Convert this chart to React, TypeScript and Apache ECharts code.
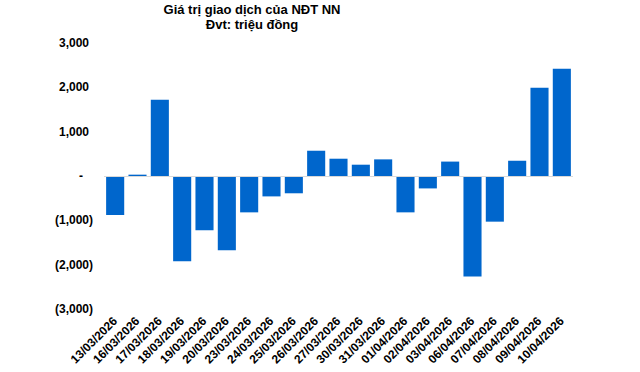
import React, { useEffect, useRef } from "react";
import * as echarts from "echarts";

const categories = [
  "13/03/2026", "16/03/2026", "17/03/2026", "18/03/2026", "19/03/2026",
  "20/03/2026", "23/03/2026", "24/03/2026", "25/03/2026", "26/03/2026",
  "27/03/2026", "30/03/2026", "31/03/2026", "01/04/2026", "02/04/2026",
  "03/04/2026", "06/04/2026", "07/04/2026", "08/04/2026", "09/04/2026",
  "10/04/2026",
];

const values = [
  -880, 30, 1720, -1925, -1225,
  -1677, -820, -460, -390, 570,
  390, 255, 375, -820, -280,
  325, -2265, -1030, 345, 1990,
  2420,
];

const titleLines = ["Giá trị giao dịch của NĐT NN", "Đvt: triệu đồng"];

const FONT = "Arial, 'Liberation Sans', sans-serif";

function fmt(v: number): string {
  if (v === 0) return "{z|-}";
  const s = Math.abs(v).toLocaleString("en-US");
  return v < 0 ? "{n|(" + s + ")}" : "{p|" + s + "}";
}

export default function App() {
  const ref = useRef<HTMLDivElement>(null);
  useEffect(() => {
    document.body.style.margin = "0";
    const chart = echarts.init(ref.current!, null, { renderer: "svg" });
    const labelRich = {
      p: { fontSize: 12, fontWeight: "bold", fontFamily: FONT, color: "#000", padding: [0, 4, 0, 0] },
      n: { fontSize: 12, fontWeight: "bold", fontFamily: FONT, color: "#000", padding: [0, 0, 0, 0] },
      z: { fontSize: 12, fontWeight: "bold", fontFamily: FONT, color: "#000", padding: [0, 10, 0, 0] },
    };
    chart.setOption({
      animation: false,
      backgroundColor: "#fff",
      title: {
        text: titleLines.join("\n"),
        left: 252,
        top: 2,
        padding: 0,
        textAlign: "center",
        textStyle: {
          fontSize: 13,
          fontWeight: "bold",
          fontFamily: FONT,
          color: "#000",
          lineHeight: 15,
        },
      },
      grid: { left: 104, right: 67, top: 43, bottom: 63, containLabel: false },
      xAxis: {
        type: "category",
        data: categories,
        axisLine: { show: false, onZero: false },
        axisTick: { show: false },
        axisLabel: {
          interval: 0,
          rotate: 45,
          margin: 10,
          fontSize: 12,
          fontWeight: "bold",
          fontFamily: FONT,
          color: "#000",
        },
      },
      yAxis: {
        type: "value",
        min: -3000,
        max: 3000,
        interval: 1000,
        splitLine: { show: false },
        axisLine: { show: false },
        axisTick: { show: false },
        axisLabel: {
          margin: 11,
          formatter: (v: number) => fmt(v),
          rich: labelRich,
        },
      },
      series: [
        {
          type: "bar",
          data: values,
          barCategoryGap: "19%",
          itemStyle: { color: "#0066cc" },
          markLine: {
            silent: true,
            symbol: "none",
            label: { show: false },
            lineStyle: { color: "#d9d9d9", type: "solid", width: 1 },
            data: [{ yAxis: 0 }],
          },
        },
      ],
    });
    return () => chart.dispose();
  }, []);
  return <div ref={ref} style={{ width: 640, height: 372 }} />;
}
